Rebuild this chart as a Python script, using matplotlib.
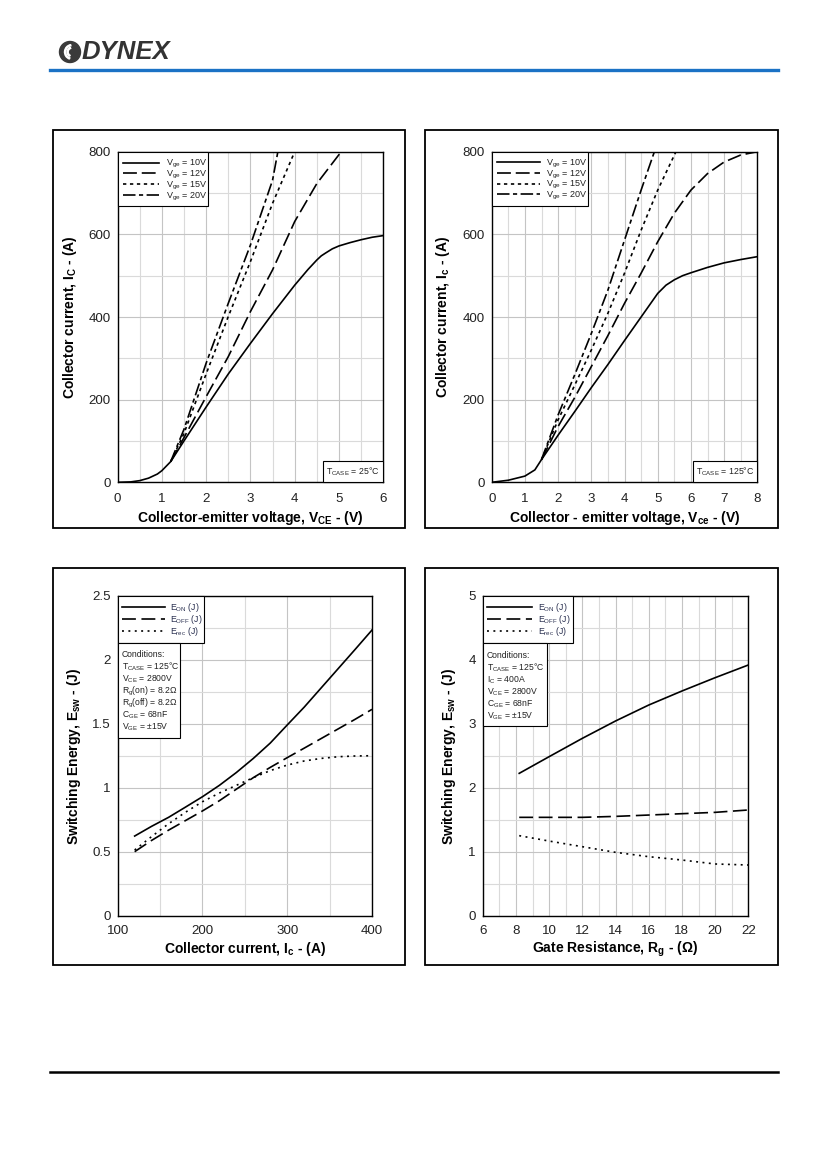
import matplotlib
matplotlib.use("Agg")
import matplotlib.pyplot as plt
from matplotlib.patches import Rectangle, Circle, Wedge
from matplotlib.lines import Line2D
from matplotlib.ticker import MultipleLocator, FuncFormatter

plt.rcParams['font.family'] = ['Liberation Sans', 'DejaVu Sans']
plt.rcParams['mathtext.fontset'] = 'custom'
plt.rcParams['mathtext.rm'] = 'Liberation Sans'
plt.rcParams['mathtext.it'] = 'Liberation Sans:italic'
plt.rcParams['mathtext.bf'] = 'Liberation Sans:bold'
plt.rcParams['lines.scale_dashes'] = False

# ---------------- data ----------------
# Top-left: output characteristics, Tcase = 25C
vce25_10 = [0, 0.3, 0.5, 0.7, 0.9, 1.0, 1.2, 1.5, 2.0, 2.5, 3.0, 3.5, 4.0, 4.3, 4.5, 4.6, 4.7, 4.85, 5.0, 5.25, 5.5, 5.75, 6.0]
ic25_10 = [0, 1, 4, 10, 20, 28, 50, 100, 182, 262, 336, 408, 477, 515, 538, 548, 555, 565, 572, 580, 587, 593, 597]
vce25_12 = [1.2, 1.5, 2.0, 2.5, 3.0, 3.5, 4.0, 4.5, 5.05]
ic25_12 = [50, 108, 207, 304, 413, 514, 631, 723, 800]
vce25_15 = [1.2, 1.5, 2.0, 2.5, 3.0, 3.5, 4.0]
ic25_15 = [50, 118, 262, 401, 534, 675, 800]
vce25_20 = [1.2, 1.5, 2.0, 2.5, 3.0, 3.5, 3.62]
ic25_20 = [50, 128, 288, 433, 574, 731, 800]

# Top-right: output characteristics, Tcase = 125C
vce125_10 = [0, 0.5, 1.0, 1.3, 1.5, 2.0, 2.5, 3.0, 3.5, 4.0, 4.5, 5.0, 5.25, 5.5, 5.75, 6.0, 6.5, 7.0, 7.5, 8.0]
ic125_10 = [0, 5, 15, 30, 55, 114, 171, 229, 285, 343, 400, 457, 477, 490, 500, 507, 520, 531, 539, 546]
vce125_12 = [1.5, 2.0, 2.5, 3.0, 3.5, 4.0, 4.5, 5.0, 5.5, 6.0, 6.5, 7.0, 7.5, 8.0]
ic125_12 = [55, 135, 205, 280, 355, 433, 506, 582, 651, 707, 747, 775, 792, 800]
vce125_15 = [1.5, 2.0, 2.5, 3.0, 3.5, 4.0, 4.5, 5.0, 5.55]
ic125_15 = [55, 151, 235, 320, 409, 506, 610, 707, 800]
vce125_20 = [1.5, 2.0, 2.5, 3.0, 3.5, 4.0, 4.5, 4.9]
ic125_20 = [55, 163, 260, 360, 465, 586, 707, 800]

vge_labels = [r"V$_{\mathrm{ge}}$ = 10V", r"V$_{\mathrm{ge}}$ = 12V",
              r"V$_{\mathrm{ge}}$ = 15V", r"V$_{\mathrm{ge}}$ = 20V"]

# Bottom-left: switching energy vs collector current
ic_sw = [120, 140, 160, 180, 200, 220, 240, 260, 280, 300, 320, 340, 360, 380, 400]
eon_ic = [0.624, 0.70, 0.77, 0.85, 0.931, 1.02, 1.12, 1.23, 1.35, 1.491, 1.63, 1.78, 1.93, 2.08, 2.232]
eoff_ic = [0.502, 0.59, 0.67, 0.745, 0.82, 0.90, 0.99, 1.08, 1.16, 1.236, 1.31, 1.385, 1.46, 1.535, 1.613]
erec_ic = [0.515, 0.62, 0.72, 0.81, 0.892, 0.96, 1.02, 1.08, 1.135, 1.178, 1.21, 1.23, 1.243, 1.249, 1.251]

# Bottom-right: switching energy vs gate resistance
rg = [8.2, 10, 12, 14, 16, 18, 20, 22]
eon_rg = [2.227, 2.487, 2.773, 3.044, 3.293, 3.512, 3.72, 3.918]
eoff_rg = [1.54, 1.54, 1.54, 1.555, 1.576, 1.597, 1.618, 1.655]
erec_rg = [1.254, 1.17, 1.082, 0.994, 0.926, 0.874, 0.812, 0.796]

e_labels = [r"E$_{\mathrm{ON}}$ (J)", r"E$_{\mathrm{OFF}}$ (J)", r"E$_{\mathrm{rec}}$ (J)"]

cond_ic = ["Conditions:",
           r"T$_{\mathrm{CASE}}$ = 125°C",
           r"V$_{\mathrm{CE}}$ = 2800V",
           r"R$_{\mathrm{g}}$(on) = 8.2Ω",
           r"R$_{\mathrm{g}}$(off) = 8.2Ω",
           r"C$_{\mathrm{GE}}$ = 68nF",
           r"V$_{\mathrm{GE}}$ = ±15V"]
cond_rg = ["Conditions:",
           r"T$_{\mathrm{CASE}}$ = 125°C",
           r"I$_{\mathrm{C}}$ = 400A",
           r"V$_{\mathrm{CE}}$ = 2800V",
           r"C$_{\mathrm{GE}}$ = 68nF",
           r"V$_{\mathrm{GE}}$ = ±15V"]

# ---------------- figure ----------------
W, H = 827, 1169
fig = plt.figure(figsize=(W / 100, H / 100), dpi=100)

def fx(x):
    return x / W

def fy(y):
    return 1 - y / H

def frect(x0, y0, x1, y1, lw=0.8, z=6):
    fig.add_artist(Rectangle((fx(x0), fy(y1)), fx(x1) - fx(x0), fy(y0) - fy(y1),
                             transform=fig.transFigure, fc='white', ec='black', lw=lw,
                             zorder=z))

def ftext(x, ycen, s, size, ha='left', color='#222222'):
    # baseline placed so that cap height is centred on ycen
    cap = 0.716 * size * 100 / 72
    fig.text(fx(x), fy(ycen + cap / 2), s, fontsize=size, ha=ha, va='baseline',
             color=color, zorder=8)

def fline(x0, x1, y, ls):
    fig.add_artist(Line2D([fx(x0), fx(x1)], [fy(y), fy(y)], color='black', lw=1.2, ls=ls,
                          zorder=8))

# header
fig.add_artist(Line2D([fx(50), fx(778)], [fy(70), fy(70)], color='#1b72c5', lw=2.4))
fig.add_artist(Line2D([fx(50), fx(778)], [fy(1072), fy(1072)], color='black', lw=1.8))
fig.add_artist(Circle((70 / 100, (H - 52) / 100), 0.105, transform=fig.dpi_scale_trans,
                      color='#3a3a3a'))
for r, th1, th2 in [(0.075, 100, 250), (0.05, 110, 240)]:
    fig.add_artist(Wedge((72 / 100, (H - 52) / 100), r, th1, th2, width=0.012,
                         transform=fig.dpi_scale_trans, color='white'))
fig.text(fx(82), fy(52), "DYNEX", fontsize=18.5, fontweight='bold', style='italic',
         color='#333333', va='center', ha='left')

# panel frames
for (x0, y0, x1, y1) in [(53, 130, 405, 528), (425, 130, 778, 528),
                         (53, 568, 405, 965), (425, 568, 778, 965)]:
    fig.add_artist(Rectangle((fx(x0), fy(y1)), fx(x1) - fx(x0), fy(y0) - fy(y1),
                             transform=fig.transFigure, fill=False, ec='black', lw=1.3))

def make_ax(x0, y0, x1, y1, xpad):
    ax = fig.add_axes([fx(x0), fy(y1), fx(x1) - fx(x0), fy(y0) - fy(y1)])
    ax.set_axisbelow(True)
    ax.grid(which='major', color='#c4c4c4', lw=0.8)
    ax.grid(which='minor', color='#dadada', lw=0.8)
    ax.tick_params(which='both', length=0, labelsize=9.6, colors='#222222')
    ax.tick_params(axis='x', pad=xpad)
    ax.tick_params(axis='y', pad=5)
    for s in ax.spines.values():
        s.set_linewidth(1.0)
    return ax

LW = 1.2
ST_SOLID = '-'
ST_12 = (0, (10, 3.5))
ST_15 = (0, (2.4, 2.6))
ST_20 = (0, (9, 2.5, 3, 2.5))
ST_OFF = (0, (10, 4))
ST_REC = (0, (1.4, 3.2))

def legend_block(box, hx0, hx1, tx, rows, styles, labels, size, color='#222222'):
    frect(*box)
    for y, st, lab in zip(rows, styles, labels):
        fline(hx0, hx1, y, st)
        ftext(tx, y, lab, size, color=color)

def set_labels(ax, xl, yl, xlab_y, ylab_x, size=10):
    ax.set_xlabel(xl, fontsize=size, fontweight='bold')
    ax.set_ylabel(yl, fontsize=size, fontweight='bold')
    ax.xaxis.set_label_coords(0.5, xlab_y)
    ax.yaxis.set_label_coords(ylab_x, 0.5)

# ---- top-left
ax1 = make_ax(117.5, 151.7, 383.3, 482.3, 8)
ax1.plot(vce25_10, ic25_10, color='black', lw=LW, ls=ST_SOLID)
ax1.plot(vce25_12, ic25_12, color='black', lw=LW, ls=ST_12)
ax1.plot(vce25_15, ic25_15, color='black', lw=LW, ls=ST_15)
ax1.plot(vce25_20, ic25_20, color='black', lw=LW, ls=ST_20)
ax1.set_xlim(0, 6)
ax1.set_ylim(0, 800)
ax1.xaxis.set_major_locator(MultipleLocator(1))
ax1.xaxis.set_minor_locator(MultipleLocator(0.5))
ax1.yaxis.set_major_locator(MultipleLocator(200))
ax1.yaxis.set_minor_locator(MultipleLocator(100))
set_labels(ax1, r"Collector-emitter voltage, $\mathbf{V_{CE}}$ - (V)",
           r"Collector current, $\mathbf{I_C}$ - (A)", -0.08, -0.1467)
legend_block((117.5, 151.7, 208, 205.7), 122.7, 159.3, 166,
             [162.7, 173.5, 184.3, 195.0], [ST_SOLID, ST_12, ST_15, ST_20], vge_labels, 6.5)
frect(323, 461, 383.3, 482.3)
ftext(353.2, 471.6, r"T$_{\mathrm{CASE}}$ = 25°C", 6.3, ha='center')

# ---- top-right
ax2 = make_ax(491.7, 151.7, 757.3, 482.3, 8)
ax2.plot(vce125_10, ic125_10, color='black', lw=LW, ls=ST_SOLID)
ax2.plot(vce125_12, ic125_12, color='black', lw=LW, ls=ST_12)
ax2.plot(vce125_15, ic125_15, color='black', lw=LW, ls=ST_15)
ax2.plot(vce125_20, ic125_20, color='black', lw=LW, ls=ST_20)
ax2.set_xlim(0, 8)
ax2.set_ylim(0, 800)
ax2.xaxis.set_major_locator(MultipleLocator(1))
ax2.xaxis.set_minor_locator(MultipleLocator(0.5))
ax2.yaxis.set_major_locator(MultipleLocator(200))
ax2.yaxis.set_minor_locator(MultipleLocator(100))
set_labels(ax2, r"Collector - emitter voltage, $\mathbf{V_{ce}}$ - (V)",
           r"Collector current, $\mathbf{I_c}$ - (A)", -0.08, -0.1483)
legend_block((491.7, 151.7, 588.3, 206), 496.7, 540, 545.7,
             [162.3, 173.0, 183.7, 194.3], [ST_SOLID, ST_12, ST_15, ST_20], vge_labels, 6.5)
frect(692.7, 461, 757.3, 482.3)
ftext(725, 471.6, r"T$_{\mathrm{CASE}}$ = 125°C", 6.3, ha='center')

# ---- bottom-left
ax3 = make_ax(117.7, 595.7, 372.0, 916.0, 6.5)
ax3.plot(ic_sw, eon_ic, color='black', lw=LW, ls=ST_SOLID)
ax3.plot(ic_sw, eoff_ic, color='black', lw=LW, ls=ST_OFF)
ax3.plot(ic_sw, erec_ic, color='black', lw=LW, ls=ST_REC)
ax3.set_xlim(100, 400)
ax3.set_ylim(0, 2.5)
ax3.xaxis.set_major_locator(MultipleLocator(100))
ax3.xaxis.set_minor_locator(MultipleLocator(50))
ax3.yaxis.set_major_locator(MultipleLocator(0.5))
ax3.yaxis.set_minor_locator(MultipleLocator(0.25))
ax3.yaxis.set_major_formatter(FuncFormatter(lambda v, p: f"{v:g}"))
set_labels(ax3, r"Collector current, $\mathbf{I_c}$ - (A)",
           r"Switching Energy, $\mathbf{E_{sw}}$ - (J)", -0.075, -0.1353)
legend_block((117.7, 595.7, 204.3, 642.7), 121.7, 165, 170,
             [607.3, 619.0, 631.0], [ST_SOLID, ST_OFF, ST_REC], e_labels, 6.3,
             color='#2a3050')
frect(117.7, 642.7, 180, 738.3)
for i, line in enumerate(cond_ic):
    ftext(121.7, 654.3 + i * 12.07, line, 6.2)

# ---- bottom-right
ax4 = make_ax(482.7, 595.7, 748.3, 916.0, 6.5)
ax4.plot(rg, eon_rg, color='black', lw=LW, ls=ST_SOLID)
ax4.plot(rg, eoff_rg, color='black', lw=LW, ls=ST_OFF)
ax4.plot(rg, erec_rg, color='black', lw=LW, ls=ST_REC)
ax4.set_xlim(6, 22)
ax4.set_ylim(0, 5)
ax4.xaxis.set_major_locator(MultipleLocator(2))
ax4.xaxis.set_minor_locator(MultipleLocator(1))
ax4.yaxis.set_major_locator(MultipleLocator(1))
ax4.yaxis.set_minor_locator(MultipleLocator(0.5))
set_labels(ax4, r"Gate Resistance, $\mathbf{R_g}$ - (Ω)",
           r"Switching Energy, $\mathbf{E_{sw}}$ - (J)", -0.075, -0.0941)
legend_block((482.7, 595.7, 573.3, 642.7), 487, 532.3, 537.7,
             [607.3, 619.0, 631.0], [ST_SOLID, ST_OFF, ST_REC], e_labels, 6.3,
             color='#2a3050')
frect(482.7, 642.7, 547.3, 726)
for i, line in enumerate(cond_rg):
    ftext(486.7, 655 + i * 12.0, line, 6.2)

fig.savefig("out.png", dpi=100)
